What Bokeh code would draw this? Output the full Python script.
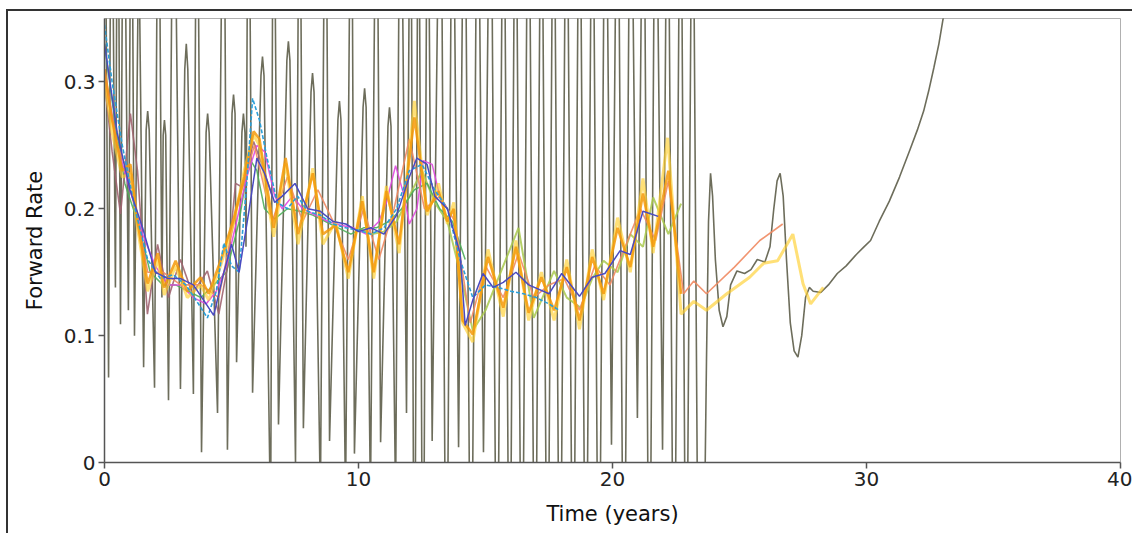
from bokeh.plotting import figure
from bokeh.models import Range1d, FixedTicker
from bokeh.embed import file_html
from bokeh.resources import INLINE

# ---------------- data ----------------
x_ticks = [0, 10, 20, 30, 40]
y_ticks = [0, 0.1, 0.2, 0.3]

# wildly oscillating (overfitted) curve: extrema, values beyond the axis are clipped
osc_t = [0.0, 0.16, 0.27, 0.43, 0.52, 0.63, 0.75, 0.94, 1.06, 1.18, 1.35, 1.54,
         1.64, 1.70, 1.76, 1.97, 2.12, 2.26, 2.31, 2.36, 2.41, 2.52, 2.72, 2.99,
         3.16, 3.22, 3.28, 3.50, 3.64, 3.82, 4.00, 4.06, 4.12, 4.45, 4.69, 4.84,
         5.02, 5.08, 5.14, 5.20, 5.41, 5.47, 5.53, 5.57, 5.67, 5.83, 6.16, 6.22,
         6.28, 6.54, 6.65, 6.85, 7.18, 7.24, 7.30, 7.52, 7.68, 7.83, 8.13, 8.19,
         8.25, 8.50, 8.70, 8.86, 9.19, 9.25, 9.31, 9.49, 9.72, 9.84, 10.18, 10.24,
         10.30, 10.47, 10.71, 10.87, 11.16, 11.22, 11.28, 11.46, 11.65, 11.89,
         12.05, 12.20, 12.36, 12.54, 12.72, 12.90, 13.23, 13.46,
         13.70, 13.94, 14.17, 14.43, 14.69, 14.92, 15.20, 15.45, 15.71, 15.95, 16.18, 16.43,
         16.69, 16.95, 17.20, 17.44, 17.68, 17.93, 18.19, 18.45, 18.70, 18.95, 19.21, 19.46,
         19.72, 19.96, 20.20, 20.45, 20.71, 20.98, 21.22, 21.45, 21.69, 21.97, 22.17, 22.42,
         22.68, 22.90, 23.15, 23.40, 23.62, 23.70, 23.78, 23.86, 23.94, 24.05, 24.20, 24.35,
         24.50, 24.65, 24.90, 25.20, 25.45, 25.70, 26.00, 26.20, 26.35, 26.48, 26.60, 26.72,
         26.85, 27.00, 27.15, 27.30, 27.45, 27.60, 27.75, 27.90, 28.20, 28.50, 28.85, 29.20,
         29.60, 29.90, 30.16, 30.50, 30.90, 31.30, 31.70, 32.00, 32.25, 32.45, 32.65, 32.85,
         33.00, 33.20]
osc_v = [0.55, 0.067, 0.55, 0.138, 0.55, 0.109, 0.55, 0.12, 0.55, 0.10, 0.42, 0.075,
         0.262, 0.277, 0.262, 0.059, 0.55, 0.13, 0.258, 0.27, 0.258, 0.049, 0.55, 0.058,
         0.31, 0.33, 0.31, 0.054, 0.55, 0.008, 0.26, 0.275, 0.26, 0.039, 0.55, 0.01,
         0.275, 0.29, 0.275, 0.079, 0.26, 0.275, 0.26, 0.17, 0.55, 0.055, 0.305, 0.32,
         0.305, -0.05, 0.55, 0.03, 0.317, 0.332, 0.317, 0.0, 0.55, 0.027, 0.292, 0.307,
         0.292, -0.03, 0.55, 0.017, 0.27, 0.285, 0.27, -0.03, 0.55, 0.007, 0.28, 0.295,
         0.28, -0.03, 0.55, 0.016, 0.265, 0.28, 0.265, -0.03, 0.55, 0.039,
         0.55, -0.2, 0.55, -0.2, 0.55, 0.017, 0.55, -0.2,
         0.55, 0.012, 0.55, -0.2, 0.55, 0.008, 0.55, -0.2, 0.55, -0.2, 0.55, -0.2,
         0.55, -0.2, 0.55, -0.2, 0.55, -0.2, 0.55, -0.2, 0.55, -0.2, 0.55, -0.2,
         0.55, 0.014, 0.55, -0.2, 0.55, 0.035, 0.55, -0.2, 0.55, 0.01, 0.55, -0.2,
         0.55, -0.2, 0.55, -0.2, -0.05, 0.08, 0.19, 0.228, 0.21, 0.16, 0.12, 0.107,
         0.115, 0.14, 0.151, 0.149, 0.152, 0.16, 0.158, 0.17, 0.2, 0.222, 0.228, 0.21,
         0.16, 0.11, 0.088, 0.083, 0.1, 0.13, 0.138, 0.135, 0.134, 0.14, 0.149, 0.155,
         0.164, 0.17, 0.175, 0.19, 0.206, 0.225, 0.246, 0.262, 0.277, 0.293, 0.311, 0.33,
         0.348, 0.37]

orange_t = [0.0, 0.3, 0.7, 1.02, 1.3, 1.7, 2.1, 2.35, 2.8, 3.26, 3.78, 4.1, 4.57, 5.1, 5.5, 5.87,
            6.1, 6.4, 6.66, 7.13, 7.62, 8.2, 8.6, 9.1, 9.6, 10.15, 10.6, 11.1, 11.6, 12.2, 12.7,
            13.15, 13.5, 13.75, 14.1, 14.5, 15.1, 15.7, 16.2, 16.7, 17.2, 17.7, 18.2, 18.7, 19.2,
            19.65, 20.2, 20.7, 21.2, 21.6, 22.2, 22.7]
orange_v = [0.31, 0.27, 0.23, 0.235, 0.19, 0.141, 0.165, 0.138, 0.159, 0.135, 0.146, 0.133, 0.159,
            0.193, 0.225, 0.261, 0.255, 0.217, 0.185, 0.24, 0.18, 0.228, 0.18, 0.187, 0.15, 0.206,
            0.15, 0.214, 0.172, 0.272, 0.198, 0.214, 0.19, 0.2, 0.112, 0.101, 0.162, 0.122, 0.17,
            0.118, 0.146, 0.12, 0.154, 0.112, 0.162, 0.133, 0.185, 0.154, 0.212, 0.17, 0.23, 0.133]

yellow_t = [0.0, 0.3, 0.7, 1.02, 1.3, 1.7, 2.1, 2.35, 2.8, 3.26, 3.78, 4.1, 4.57, 5.1, 5.5, 5.87,
            6.1, 6.4, 6.66, 7.13, 7.62, 8.2, 8.6, 9.1, 9.6, 10.15, 10.6, 11.1, 11.6, 12.2, 12.7,
            13.15, 13.5, 13.75, 14.1, 14.5, 15.1, 15.7, 16.2, 16.7, 17.2, 17.7, 18.2, 18.7, 19.2,
            19.65, 20.2, 20.7, 21.2, 21.6, 22.17, 22.7, 23.2, 23.7, 24.5, 25.4, 25.95, 26.5, 27.1,
            27.5, 27.8, 28.3]
yellow_v = [0.3, 0.26, 0.225, 0.228, 0.185, 0.135, 0.16, 0.132, 0.155, 0.13, 0.14, 0.128, 0.155,
            0.19, 0.23, 0.258, 0.25, 0.21, 0.178, 0.236, 0.172, 0.232, 0.172, 0.19, 0.145, 0.21,
            0.145, 0.218, 0.165, 0.285, 0.195, 0.22, 0.188, 0.205, 0.11, 0.095, 0.168, 0.115, 0.175,
            0.112, 0.15, 0.112, 0.16, 0.105, 0.168, 0.128, 0.193, 0.15, 0.224, 0.165, 0.256, 0.117,
            0.127, 0.12, 0.133, 0.146, 0.157, 0.159, 0.18, 0.141, 0.125, 0.138]

salmon_t = [0.0, 0.5, 1.0, 1.7, 2.3, 3.0, 3.8, 4.5, 5.2, 5.9, 6.6, 7.2, 7.8, 8.4, 9.0, 9.6,
            10.2, 10.8, 11.4, 12.0, 12.6, 13.2, 13.8, 14.4, 15.0, 15.7, 16.3, 16.9, 17.5, 18.1,
            18.7, 19.3, 19.9, 20.5, 21.1, 21.7, 22.2, 22.8, 23.2, 23.7, 24.8, 25.8, 26.7]
salmon_v = [0.3, 0.25, 0.225, 0.15, 0.15, 0.14, 0.14, 0.13, 0.2, 0.25, 0.19, 0.225, 0.19, 0.215,
            0.19, 0.16, 0.2, 0.16, 0.2, 0.255, 0.2, 0.21, 0.19, 0.11, 0.155, 0.13, 0.165, 0.13,
            0.14, 0.145, 0.12, 0.155, 0.14, 0.17, 0.2, 0.175, 0.222, 0.133, 0.143, 0.133, 0.154,
            0.175, 0.188]

blue_t = [0, 0.5, 1, 1.5, 2, 2.5, 3, 3.5, 4, 4.3, 4.7, 5.0, 5.3, 5.7, 6.0, 6.3, 6.7, 7.0, 7.5,
          8.0, 8.5, 9.0, 9.5, 10, 10.5, 11, 11.5, 12, 12.3, 12.7, 13, 13.5, 14, 14.2, 14.5, 14.9,
          15.3, 15.7, 16.2, 16.7, 17.5, 18.0, 18.7, 19.2, 19.7, 20.3, 20.7, 21.2, 21.8]
blue_v = [0.33, 0.26, 0.215, 0.185, 0.15, 0.145, 0.145, 0.14, 0.125, 0.116, 0.15, 0.172, 0.15,
          0.2, 0.24, 0.228, 0.205, 0.21, 0.22, 0.2, 0.198, 0.19, 0.188, 0.182, 0.185, 0.18, 0.195,
          0.225, 0.24, 0.235, 0.21, 0.2, 0.165, 0.108, 0.128, 0.149, 0.138, 0.142, 0.15, 0.14,
          0.133, 0.149, 0.131, 0.146, 0.149, 0.167, 0.164, 0.198, 0.194]

cyan_t = [0, 0.3, 0.7, 1.2, 1.7, 2.2, 2.7, 3.2, 3.7, 4.05, 4.4, 4.7, 5.0, 5.3, 5.6, 5.83, 6.1,
          6.4, 6.8, 7.2, 7.6, 8.0, 8.5, 9, 9.5, 10, 10.5, 11, 11.5, 12, 12.5, 13, 13.5, 14, 14.5,
          15, 15.5, 16, 16.5, 17, 17.5, 17.9]
cyan_v = [0.345, 0.3, 0.25, 0.2, 0.16, 0.145, 0.148, 0.14, 0.125, 0.114, 0.135, 0.173, 0.155,
          0.15, 0.22, 0.287, 0.27, 0.24, 0.205, 0.2, 0.21, 0.198, 0.195, 0.188, 0.185, 0.183, 0.18,
          0.185, 0.2, 0.23, 0.235, 0.215, 0.2, 0.16, 0.13, 0.14, 0.138, 0.135, 0.133, 0.13, 0.125,
          0.12]

green_t = [0, 0.4, 0.8, 1.3, 1.8, 2.3, 2.8, 3.3, 3.8, 4.3, 4.8, 5.3, 5.7, 6.0, 6.3, 6.7, 7.2,
           7.7, 8.2, 8.7, 9.2, 9.7, 10.2, 10.7, 11.2, 11.7, 12.2, 12.7, 13.2, 13.7, 14.2]
green_v = [0.33, 0.27, 0.22, 0.19, 0.15, 0.14, 0.14, 0.135, 0.13, 0.14, 0.15, 0.19, 0.24, 0.23,
           0.2, 0.192, 0.2, 0.198, 0.195, 0.19, 0.185, 0.18, 0.185, 0.185, 0.19, 0.2, 0.215, 0.22,
           0.2, 0.19, 0.16]

magenta_t = [0, 0.5, 1.0, 1.5, 2, 2.5, 3, 3.5, 4, 4.4, 4.8, 5.2, 5.6, 6.0, 6.3, 6.7, 7.0, 7.4,
             7.8, 8.3, 8.8, 9.3, 9.8, 10.3, 10.8, 11.1, 11.46, 11.8, 12.0, 12.3, 12.55, 12.9,
             13.2, 13.5]
magenta_v = [0.31, 0.25, 0.215, 0.18, 0.155, 0.14, 0.14, 0.13, 0.125, 0.135, 0.155, 0.19, 0.225,
             0.25, 0.245, 0.21, 0.2, 0.21, 0.2, 0.195, 0.19, 0.187, 0.185, 0.18, 0.19, 0.205,
             0.234, 0.21, 0.188, 0.2, 0.238, 0.235, 0.21, 0.2]

brown_t = [0, 0.3, 0.63, 1.02, 1.3, 1.69, 2.09, 2.52, 2.99, 3.46, 4.05, 4.5, 4.84, 5.16, 5.43,
           5.87, 6.2, 6.6]
brown_v = [0.3, 0.245, 0.196, 0.275, 0.23, 0.117, 0.172, 0.13, 0.16, 0.133, 0.151, 0.117, 0.154,
           0.22, 0.217, 0.253, 0.235, 0.21]

ygreen_t = [10.0, 10.5, 11.0, 11.5, 12.0, 12.5, 13.0, 13.5, 14.0, 14.5, 15.0, 15.6, 16.3, 16.9,
            17.7, 18.2, 18.75, 19.2, 19.65, 20.2, 20.7, 21.2, 21.6, 22.2, 22.7]
ygreen_v = [0.185, 0.18, 0.182, 0.19, 0.21, 0.23, 0.205, 0.19, 0.15, 0.104, 0.12, 0.15, 0.185,
            0.114, 0.151, 0.13, 0.122, 0.145, 0.159, 0.15, 0.18, 0.17, 0.209, 0.18, 0.204]

# ---------------- figure ----------------
FONT = "DejaVu Sans"
p = figure(width=1126, height=524, output_backend="svg", toolbar_location=None,
           x_range=Range1d(0, 40), y_range=Range1d(0, 0.35),
           min_border_left=96, min_border_right=14, min_border_top=7, min_border_bottom=73)
p.styles = {"margin-left": "6px", "margin-top": "9px",
            "border-left": "2px solid #333333", "border-top": "2px solid #333333"}
p.background_fill_color = "white"
p.border_fill_color = "white"
p.outline_line_color = "#b0b0b0"
p.outline_line_width = 1
p.xgrid.visible = False
p.ygrid.visible = False

p.line(osc_t, osc_v, line_color="#54543e", line_width=1.6, line_alpha=0.85)

p.line(ygreen_t, ygreen_v, line_color="#a9c94e", line_width=2, line_alpha=0.85)
p.line(green_t, green_v, line_color="#4fae5a", line_width=1.5, line_alpha=0.9)
p.line(brown_t, brown_v, line_color="#a06470", line_width=1.6, line_alpha=0.9)
p.line(magenta_t, magenta_v, line_color="#e048e0", line_width=1.5, line_alpha=0.9)
p.line(salmon_t, salmon_v, line_color="#ef8a62", line_width=1.6, line_alpha=0.9)
p.line(yellow_t, yellow_v, line_color="#ffcf2e", line_width=3, line_alpha=0.65)
p.line(orange_t, orange_v, line_color="#f59a0a", line_width=2.6, line_alpha=0.85)
p.line(cyan_t, cyan_v, line_color="#2a9fd8", line_width=1.6, line_dash="4 2")
p.line(blue_t, blue_v, line_color="#4a4ac0", line_width=1.5)

for ax in (p.xaxis[0], p.yaxis[0]):
    ax.axis_line_color = "#555555"
    ax.axis_line_width = 1.5
    ax.major_tick_line_color = "#555555"
    ax.major_tick_line_width = 1.5
    ax.major_tick_out = 6
    ax.major_tick_in = 0
    ax.minor_tick_out = 0
    ax.minor_tick_in = 0
    ax.major_label_text_font = FONT
    ax.major_label_text_font_size = "20px"
    ax.major_label_text_color = "#222222"
    ax.axis_label_text_font = FONT
    ax.axis_label_text_font_size = "21px"
    ax.axis_label_text_font_style = "normal"
    ax.axis_label_text_color = "#111111"

p.xaxis.ticker = FixedTicker(ticks=x_ticks)
p.yaxis.ticker = FixedTicker(ticks=y_ticks)
p.yaxis.major_label_overrides = {0: "0", 0.1: "0.1", 0.2: "0.2", 0.3: "0.3"}
p.xaxis.major_label_overrides = {t: str(t) for t in x_ticks}
p.xaxis.axis_label = "Time (years)"
p.yaxis.axis_label = "Forward Rate"
p.xaxis.major_label_standoff = 3
p.yaxis.major_label_standoff = 3
p.xaxis.axis_label_standoff = 13
p.yaxis.axis_label_standoff = 14

open("out.html", "w").write(file_html(p, INLINE))
